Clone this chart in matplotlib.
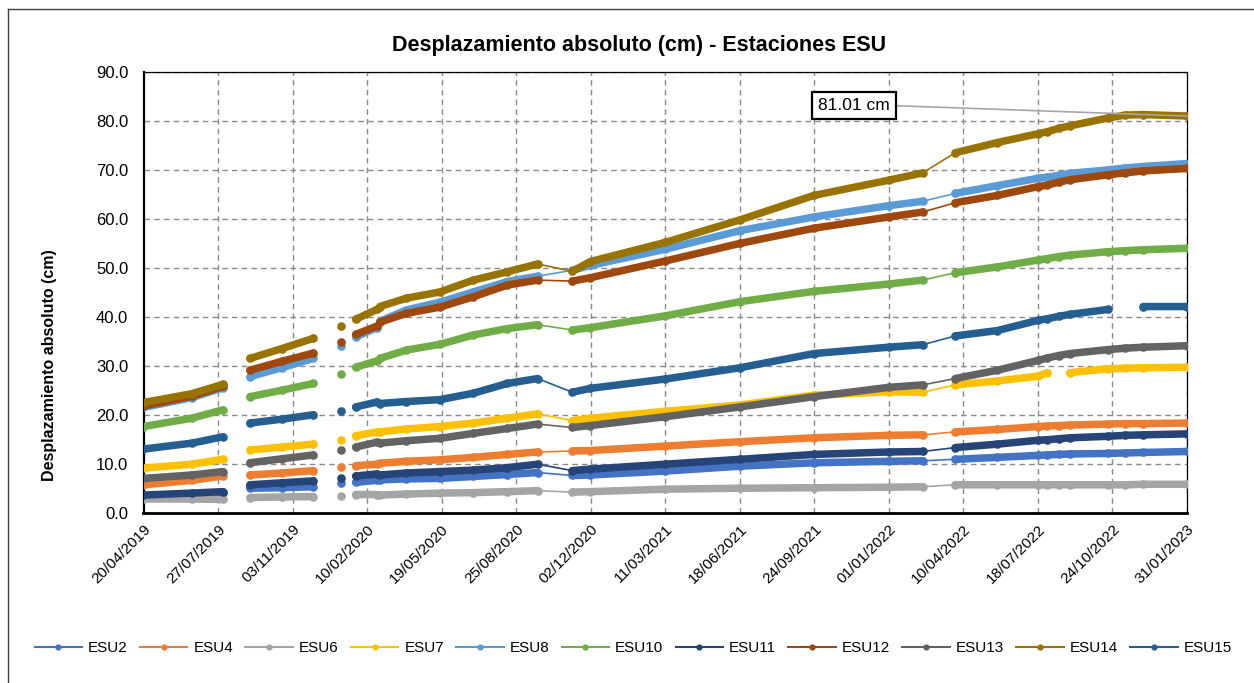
import numpy as np
import pandas as pd
import matplotlib
matplotlib.use("Agg")
import matplotlib.pyplot as plt
from matplotlib.lines import Line2D

plt.rcParams['font.family'] = ['Liberation Sans', 'DejaVu Sans']

# ---------------- data ----------------
dates = ['2019-04-20', '2019-06-23', '2019-08-03', '2019-08-20',
         '2019-09-08', '2019-10-20', '2019-12-01', '2019-12-20',
         '2020-01-07', '2020-01-17', '2020-01-26', '2020-02-23',
         '2020-02-25', '2020-02-27', '2020-04-02', '2020-05-17',
         '2020-06-30', '2020-08-14', '2020-09-23', '2020-11-08',
         '2020-12-02', '2021-03-11', '2021-06-18', '2021-09-24',
         '2022-01-01', '2022-02-15', '2022-03-30', '2022-05-25',
         '2022-07-18', '2022-07-30', '2022-08-14', '2022-08-29',
         '2022-10-18', '2022-11-10', '2022-12-04', '2023-01-31']
nan = np.nan
esu2 = [3.4, 3.7, 4.0, nan, 5.0, 5.1, 5.3, nan, 6.1, nan, 6.2, 6.6, nan, 6.7, 6.9, 7.0, 7.4, 7.8,
        8.2, 7.6, 7.7, 8.5, 9.5, 10.2, 10.5, 10.6, 10.9, 11.3, 11.7, 11.8, 11.9, 12.0, 12.1, 12.2, 12.3, 12.5]
esu4 = [5.7, 6.6, 7.5, nan, 7.7, 8.1, 8.6, nan, 9.3, nan, 9.6, 9.9, nan, 10.1, 10.5, 10.8, 11.3, 11.9,
        12.4, 12.6, 12.7, 13.6, 14.5, 15.3, 15.8, 15.9, 16.5, 17.0, 17.6, 17.7, 17.8, 17.9, 18.1, 18.2, 18.2, 18.3]
esu6 = [2.8, 2.8, 2.7, nan, 3.1, 3.2, 3.3, nan, 3.5, nan, 3.7, 3.7, nan, 3.6, 3.8, 4.0, 4.1, 4.3,
        4.5, 4.2, 4.3, 4.8, 5.0, 5.1, 5.2, 5.3, 5.7, 5.7, 5.7, 5.7, 5.7, 5.7, 5.7, 5.7, 5.8, 5.8]
esu7 = [9.1, 9.9, 10.9, nan, 12.8, 13.4, 14.0, nan, 14.9, nan, 15.7, 16.5, nan, 16.5, 17.1, 17.6, 18.3, 19.3,
        20.2, 18.8, 19.3, 20.7, 22.0, 24.0, 24.7, 24.6, 26.1, 26.9, 27.9, 28.6, nan, 28.6, 29.4, 29.5, 29.6, 29.7]
esu8 = [21.5, 23.5, 25.5, nan, 27.8, 29.6, 31.5, nan, 34.1, nan, 35.9, 37.8, nan, 39.1, 41.4, 43.0, 45.1, 47.2,
        48.3, 49.5, 50.5, 53.8, 57.6, 60.4, 62.7, 63.6, 65.2, 66.8, 68.3, 68.5, 68.9, 69.3, 70.0, 70.4, 70.7, 71.3]
esu10 = [17.6, 19.3, 21.0, nan, 23.7, 25.0, 26.4, nan, 28.3, nan, 29.7, 31.0, nan, 31.5, 33.2, 34.4, 36.3, 37.6,
         38.4, 37.3, 37.8, 40.2, 43.1, 45.2, 46.7, 47.5, 49.0, 50.2, 51.6, 51.9, 52.3, 52.6, 53.3, 53.5, 53.7, 54.0]
esu11 = [3.6, 4.0, 4.3, nan, 5.7, 6.1, 6.5, nan, 7.1, nan, 7.5, 7.9, nan, 7.7, 8.1, 8.4, 8.7, 9.2,
         9.9, 8.6, 8.9, 9.9, 10.9, 11.9, 12.4, 12.5, 13.3, 14.0, 14.8, 14.9, 15.1, 15.3, 15.6, 15.8, 15.9, 16.1]
esu12 = [21.8, 23.8, 25.8, nan, 29.1, 30.9, 32.6, nan, 34.9, nan, 36.4, 38.1, nan, 38.9, 40.7, 42.0, 44.1, 46.5,
         47.5, 47.3, 48.0, 51.4, 55.0, 58.1, 60.4, 61.4, 63.3, 64.8, 66.6, 66.9, 67.5, 68.0, 69.0, 69.4, 69.8, 70.3]
esu13 = [7.0, 7.7, 8.4, nan, 10.2, 11.0, 11.8, nan, 12.9, nan, 13.4, 14.4, nan, 14.2, 14.7, 15.2, 16.2, 17.2,
         18.1, 17.4, 17.8, 19.6, 21.6, 23.7, 25.6, 26.1, 27.4, 29.1, 31.1, 31.6, 32.1, 32.5, 33.3, 33.6, 33.8, 34.1]
esu14 = [22.5, 24.3, 26.2, nan, 31.5, 33.5, 35.6, nan, 38.1, nan, 39.5, 41.5, nan, 42.1, 43.8, 45.1, 47.5, 49.2,
         50.8, 49.3, 51.3, 55.2, 59.8, 64.8, 67.9, 69.4, 73.5, 75.6, 77.4, 77.8, 78.5, 79.0, 80.6, 81.2, 81.3, 81.01]
esu15 = [13.0, 14.2, 15.5, nan, 18.3, 19.1, 20.0, nan, 20.8, nan, 21.6, 22.6, nan, 22.3, 22.7, 23.1, 24.4, 26.4,
         27.4, 24.6, 25.4, 27.3, 29.6, 32.5, 33.8, 34.3, 36.1, 37.2, 39.3, 39.6, 40.1, 40.5, 41.5, nan, 42.1, 42.1]

series_names = ['ESU2', 'ESU4', 'ESU6', 'ESU7', 'ESU8', 'ESU10', 'ESU11',
                'ESU12', 'ESU13', 'ESU14', 'ESU15']
series_values = [esu2, esu4, esu6, esu7, esu8, esu10, esu11, esu12, esu13, esu14, esu15]
colors = ['#4472C4', '#ED7D31', '#A5A5A5', '#FFC000', '#5B9BD5', '#70AD47',
          '#264478', '#9E480E', '#636363', '#997300', '#255E91']

# dates after which the records have a long hole (Excel joins them with a thin line)
sparse_after = ['2020-09-23', '2022-02-15']

x_start, x_end = '2019-04-20', '2023-01-31'
xtick_labels = ['20/04/2019', '27/07/2019', '03/11/2019', '10/02/2020', '19/05/2020',
                '25/08/2020', '02/12/2020', '11/03/2021', '18/06/2021', '24/09/2021',
                '01/01/2022', '10/04/2022', '18/07/2022', '24/10/2022', '31/01/2023']
yticks = [0, 10, 20, 30, 40, 50, 60, 70, 80, 90]
annot_text = '81.01 cm'

# ---------------- figure ----------------
W, H = 1254, 683
fig = plt.figure(figsize=(W / 100, H / 100), dpi=100)
fig.patch.set_facecolor('white')
ax = fig.add_axes([143.5 / W, 1 - 512.7 / H, (1187 - 143.5) / W, (512.7 - 72) / H])

d = pd.to_datetime(dates)
sparse = set(pd.to_datetime(sparse_after))

for k, (name, vals, col) in enumerate(zip(series_names, series_values, colors)):
    v = np.array(vals, dtype=float)
    z = 3 + k
    ax.plot(d, v, color=col, lw=1.2, zorder=z)
    dd, vv = [], []
    for di, vi in zip(d, v):
        dd.append(di)
        vv.append(vi)
        if di in sparse:
            dd.append(di + pd.Timedelta(days=1))
            vv.append(np.nan)
    ax.plot(dd, vv, color=col, lw=5.4, solid_capstyle='round', solid_joinstyle='round',
            marker='o', ms=6.2, mew=0, zorder=z)

xs = pd.Timestamp(x_start)
xe = pd.Timestamp(x_end)
ax.set_xlim(xs, xe)
ticks = pd.to_datetime(np.linspace(xs.value, xe.value, len(xtick_labels)))
ax.set_xticks(ticks)
ax.set_xticklabels(xtick_labels, rotation=45, ha='right', va='top',
                   rotation_mode='anchor', fontsize=11)
ax.set_ylim(0, 90)
ax.set_yticks(yticks)
ax.set_yticklabels([f'{t:.1f}' for t in yticks], fontsize=12)
ax.tick_params(axis='both', length=0)
ax.tick_params(axis='y', pad=11)
ax.tick_params(axis='x', pad=7)

ax.grid(True, linestyle=(0, (4, 3)), color='#8a8a8a', lw=1, zorder=1)
ax.set_axisbelow(True)
ax.spines['left'].set_linewidth(1.6)
ax.spines['bottom'].set_linewidth(2.0)
ax.spines['top'].set_linewidth(0.9)
ax.spines['right'].set_linewidth(0.9)
for s in ax.spines.values():
    s.set_color('black')

# annotation of last ESU14 value
ax.annotate(annot_text, xy=(d[-1], esu14[-1]), xycoords='data',
            xytext=((854 - 143.5) / (1187 - 143.5), (512.7 - 105.5) / (512.7 - 72)),
            textcoords='axes fraction', ha='center', va='center', fontsize=12.5,
            bbox=dict(boxstyle='square,pad=0.35', fc='white', ec='black', lw=1.6),
            arrowprops=dict(arrowstyle='-', color='#A6A6A6', lw=1.2, relpos=(1, 0.5),
                            shrinkA=0, shrinkB=0),
            zorder=30)

fig.text(0.51, 1 - 45 / H, 'Desplazamiento absoluto (cm) - Estaciones ESU',
         ha='center', va='center', fontsize=15.5, fontweight='bold')
fig.text(50 / W, 1 - 365 / H, 'Desplazamiento absoluto (cm)', rotation=90,
         ha='center', va='center', fontsize=11.5, fontweight='bold')

handles = [Line2D([0], [0], color=c, lw=1.5, marker='o', ms=4.5, mew=0) for c in colors]
fig.legend(handles, series_names, loc='center', bbox_to_anchor=(0.505, 1 - 648 / H),
           ncol=len(series_names), frameon=False, fontsize=11, handlelength=3.1,
           handletextpad=0.4, columnspacing=0.8)

# chart-area border (left and top visible)
fig.add_artist(Line2D([8 / W, 8 / W], [0, 1 - 9 / H], transform=fig.transFigure,
                      color='#404040', lw=1))
fig.add_artist(Line2D([8 / W, 1], [1 - 9 / H, 1 - 9 / H], transform=fig.transFigure,
                      color='#404040', lw=1))

fig.savefig('out.png', dpi=100)
